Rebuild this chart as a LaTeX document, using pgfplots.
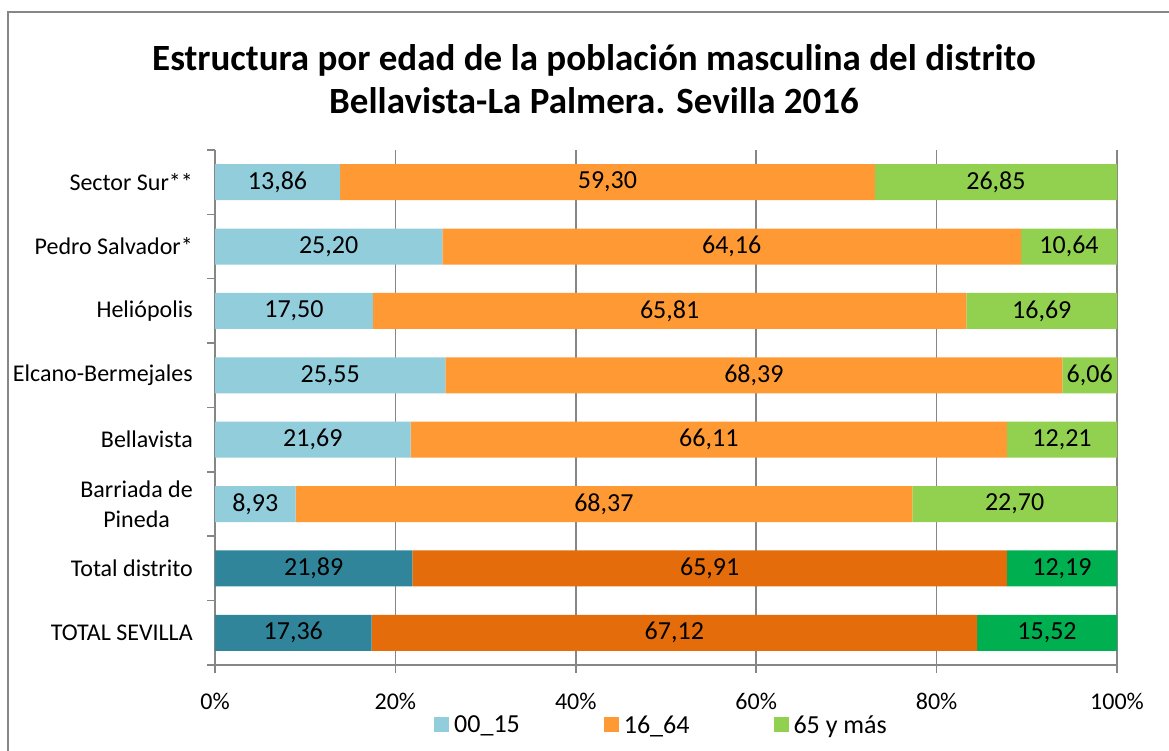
\documentclass[border=0pt]{standalone}
\usepackage{pgfplots}
\pgfplotsset{compat=1.18}
\usepackage{pgfplotstable}
\usepackage{fontspec}
\setmainfont{Carlito}
\definecolor{lblue}{RGB}{146,205,220}
\definecolor{lorange}{RGB}{255,153,51}
\definecolor{lgreen}{RGB}{146,208,80}
\definecolor{dblue}{RGB}{49,133,155}
\definecolor{dorange}{RGB}{228,108,10}
\definecolor{dgreen}{RGB}{0,176,80}
\definecolor{framegray}{RGB}{134,134,134}
\pgfplotstableread{
y a la b lb c lc d ld e le f lf
7 13.86 13,86 59.30 59,30 26.84 26,85 0 {} 0 {} 0 {}
6 25.20 25,20 64.16 64,16 10.64 10,64 0 {} 0 {} 0 {}
5 17.50 17,50 65.81 65,81 16.69 16,69 0 {} 0 {} 0 {}
4 25.55 25,55 68.39 68,39 6.06 6,06 0 {} 0 {} 0 {}
3 21.69 21,69 66.11 66,11 12.20 12,21 0 {} 0 {} 0 {}
2 8.93 8,93 68.37 68,37 22.70 22,70 0 {} 0 {} 0 {}
1 0 {} 0 {} 0 {} 21.89 21,89 65.91 65,91 12.19 12,19
0 0 {} 0 {} 0 {} 17.36 17,36 67.12 67,12 15.52 15,52
}\data
\begin{document}
\begin{tikzpicture}[x=1pt,y=1pt]
\useasboundingbox (0pt,0pt) rectangle (1169pt,751pt);
\draw[framegray, line width=1.5pt] (8pt,0pt) -- (8pt,739pt) -- (1169pt,739pt);
\node[font=\fontsize{37}{43}\selectfont\bfseries, align=center] at (594pt,671.5pt) {Estructura por edad de la población masculina del distrito\\Bellavista-La Palmera. Sevilla 2016};
\begin{axis}[
  at={(215pt,86pt)}, anchor=south west,
  width=902pt, height=515pt, scale only axis,
  xbar stacked, bar width=36pt,
  xmin=0, xmax=100, ymin=-0.5, ymax=7.5,
  axis x line*=bottom, axis y line*=left,
  axis line style={framegray, line width=1.5pt, -},
  tick style={framegray, line width=1.5pt},
  tick align=outside, major tick length=8pt,
  xtick={0,20,40,60,80,100},
  xticklabels={0\%,20\%,40\%,60\%,80\%,100\%},
  xticklabel style={font=\fontsize{24}{28}\selectfont, yshift=-17pt},
  xmajorgrids, major grid style={framegray, line width=1.5pt},
  ytick={-0.5,0.5,...,7.5}, yticklabels={},
  extra y ticks={0,1,2,3,4,5,6,7},
  extra y tick labels={TOTAL SEVILLA, Total distrito, {Barriada de\\Pineda}, Bellavista, Elcano-Bermejales, Heliópolis, Pedro Salvador*, Sector Sur**},
  extra y tick style={major tick length=0pt, yticklabel style={font=\fontsize{24}{30}\selectfont, align=center, anchor=east, inner sep=0pt, xshift=-22pt}},
  point meta=explicit symbolic,
  nodes near coords,
  every node near coord/.append style={font=\fontsize{26}{30}\selectfont, anchor=center, text=black},
  legend columns=3,
  legend style={at={(0.4950,-0.1165)}, anchor=center, draw=none, fill=none, font=\fontsize{26}{30}\selectfont, /tikz/every odd column/.append style={column sep=3pt}, /tikz/every even column/.append style={column sep=82pt}},
  legend image code/.code={\fill[#1, draw=none] (0pt,-7.5pt) rectangle (15pt,7.5pt);},
]
\addplot[fill=lblue, draw=none] table[x=a, y=y, meta=la] {\data};
\addlegendentry{00\_15}
\addplot[fill=lorange, draw=none] table[x=b, y=y, meta=lb] {\data};
\addlegendentry{16\_64}
\addplot[fill=lgreen, draw=none] table[x=c, y=y, meta=lc] {\data};
\addlegendentry{65 y más}
\addplot[fill=dblue, draw=none, forget plot] table[x=d, y=y, meta=ld] {\data};
\addplot[fill=dorange, draw=none, forget plot] table[x=e, y=y, meta=le] {\data};
\addplot[fill=dgreen, draw=none, forget plot] table[x=f, y=y, meta=lf] {\data};
\end{axis}
\end{tikzpicture}
\end{document}
